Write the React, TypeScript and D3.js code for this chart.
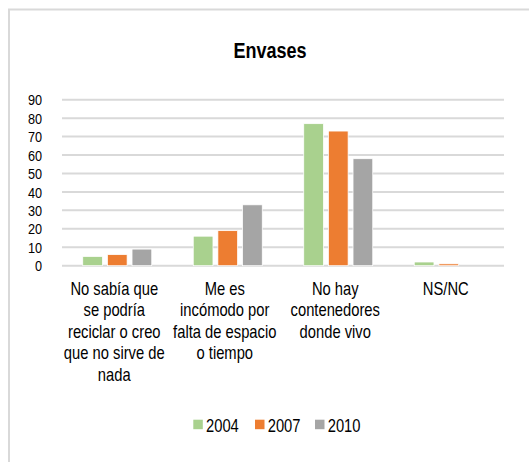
import React from 'react';
import * as d3 from 'd3';

const title = 'Envases';
const categories = ['c1', 'c2', 'c3', 'c4'];
const categoryLines = [
  ['No sabía que', 'se podría', 'reciclar o creo', 'que no sirve de', 'nada'],
  ['Me es', 'incómodo por', 'falta de espacio', 'o tiempo'],
  ['No hay', 'contenedores', 'donde vivo'],
  ['NS/NC']
];
const seriesNames = ['2004', '2007', '2010'];
const values2004 = [5, 16, 77, 2];
const values2007 = [6, 19, 73, 1];
const values2010 = [9, 33, 58, 0];
const seriesColors = ['#A9D18E', '#ED7D31', '#A5A5A5'];
const yTicks = [0, 10, 20, 30, 40, 50, 60, 70, 80, 90];

// no narrow face installed, so squeeze Liberation Sans horizontally
const font = '"Liberation Sans", Arial, sans-serif';
const squeeze = 0.82;

const Narrow = ({ x, y, children, ...rest }: any) => (
  <g transform={`translate(${x},${y}) scale(${squeeze},1)`}>
    <text x={0} y={0} fill="#000" {...rest}>
      {children}
    </text>
  </g>
);

export default function App() {
  const width = 529;
  const height = 462;
  const plot = { left: 62, right: 504, top: 99.7, bottom: 265.7 };

  const x0 = d3.scaleBand().domain(categories).range([plot.left, plot.right]);
  const groupWidth = 69;
  const x1 = d3
    .scaleBand()
    .domain(seriesNames)
    .range([0, groupWidth])
    .paddingInner(0.2);
  const y = d3.scaleLinear().domain([0, 90]).range([plot.bottom, plot.top]);

  const series = [values2004, values2007, values2010];
  const groupOffset = (x0.bandwidth() - groupWidth) / 2;

  const legendX = [193.3, 255, 315];

  return (
    <svg
      width={width}
      height={height}
      style={{ position: 'absolute', left: 0, top: 0, background: '#fff' }}
      fontFamily={font}
    >
      <rect x={0} y={0} width={width} height={height} fill="#fff" />
      <path d={`M9,${height} V9.5 H${width}`} fill="none" stroke="#D9D9D9" strokeWidth={2} />

      <Narrow x={270} y={57.5} textAnchor="middle" fontSize={22} fontWeight="bold">
        {title}
      </Narrow>

      {yTicks.map(t => (
        <g key={t}>
          <line x1={plot.left} x2={plot.right} y1={y(t)} y2={y(t)} stroke="#D9D9D9" strokeWidth={2} />
          <Narrow x={42} y={y(t)} dy="0.36em" textAnchor="end" fontSize={15.5}>
            {t}
          </Narrow>
        </g>
      ))}

      {categories.map((c, ci) => {
        const cx = (x0(c) as number) + x0.bandwidth() / 2 - 3;
        return (
          <g key={c}>
            {series.map((vals, si) => (
              <rect
                key={si}
                x={(x0(c) as number) + groupOffset + (x1(seriesNames[si]) as number)}
                y={y(vals[ci])}
                width={x1.bandwidth()}
                height={plot.bottom - y(vals[ci])}
                fill={seriesColors[si]}
                stroke="#fff"
                strokeWidth={0.75}
              />
            ))}
            <Narrow x={cx} y={295} textAnchor="middle" fontSize={18}>
              {categoryLines[ci].map((line, li) => (
                <tspan key={li} x={0} dy={li === 0 ? 0 : 21.5}>
                  {line}
                </tspan>
              ))}
            </Narrow>
          </g>
        );
      })}

      {seriesNames.map((s, i) => (
        <g key={s}>
          <rect x={legendX[i]} y={419.7} width={9.5} height={9.5} fill={seriesColors[i]} />
          <Narrow x={legendX[i] + 12.7} y={432} fontSize={18}>
            {s}
          </Narrow>
        </g>
      ))}
    </svg>
  );
}
